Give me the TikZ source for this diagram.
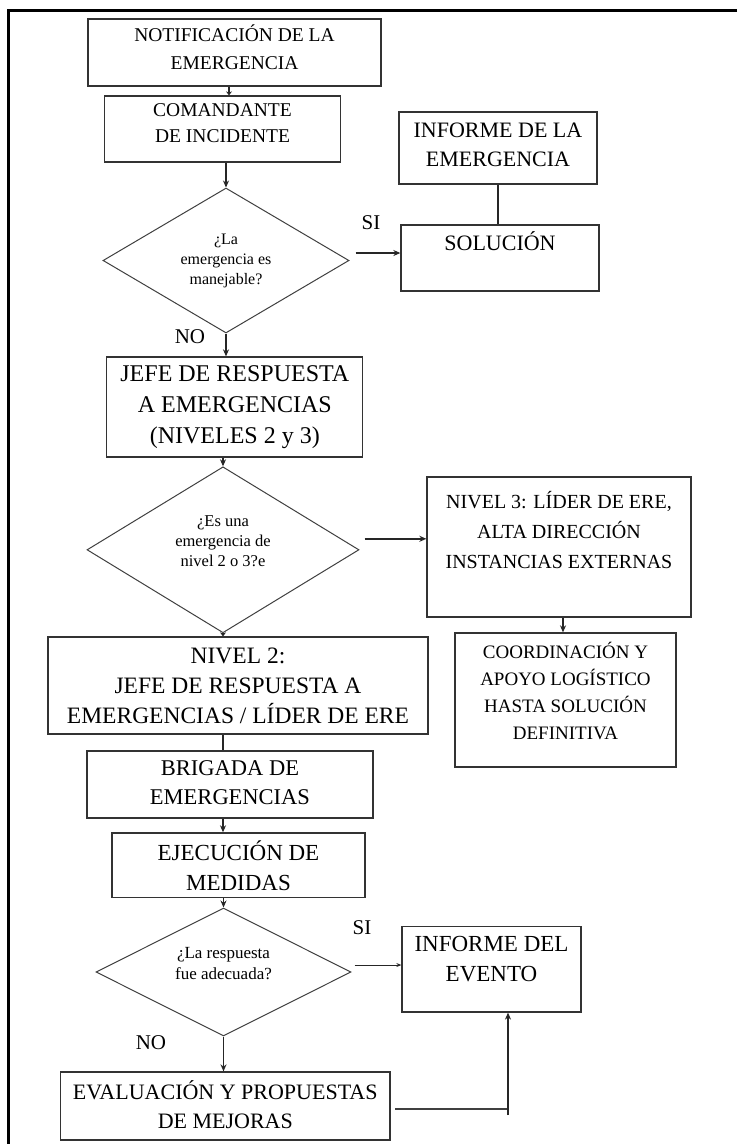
\documentclass[tikz,border=0pt]{standalone}
\usepackage{fontspec}
\setmainfont{Liberation Serif}
\usetikzlibrary{arrows.meta,shapes.geometric}
\newcommand{\flowtext}[6]{\parbox[c][#2][c]{#1}{\centering\fontsize{#4}{#5}\selectfont #6\par\vspace{#3}}}
\begin{document}
\begin{tikzpicture}[x=1pt,y=-1pt,
  box/.style={draw=black!80,line width=1.3pt,inner sep=0pt,rectangle},
  dia/.style={draw=black!75,line width=1pt,inner sep=0pt,diamond},
  arr/.style={-{Stealth[length=7pt,width=6pt]},line width=1.6pt,draw=black!85},
  ln/.style={line width=1.6pt,draw=black!85},
  lbl/.style={inner sep=0pt,font=\fontsize{21pt}{24pt}\selectfont}]

\useasboundingbox (0,0) rectangle (737,1144);
\fill[white] (0,0) rectangle (737,1144);
\draw[line width=3pt] (737,10) -- (8.5,10) -- (8.5,1144);

\node[box] (n1) at (234.5,52.5) {\flowtext{293pt}{67pt}{11pt}{19.5pt}{28pt}{NOTIFICACIÓN DE LA\\EMERGENCIA}};
\node[box] (n2) at (222.5,129) {\flowtext{236pt}{66pt}{12pt}{19.5pt}{26pt}{COMANDANTE\\DE INCIDENTE}};
\node[dia,minimum width=246pt,minimum height=145pt,shape aspect=1.7] (d1) at (226,260.5) {\flowtext{110pt}{60pt}{0pt}{16pt}{20pt}{¿La\\emergencia es\\manejable?}};
\node[box] (inf1) at (498,148) {\flowtext{198pt}{72pt}{7pt}{22pt}{29pt}{INFORME DE LA\\EMERGENCIA}};
\node[box] (sol) at (500,258) {\flowtext{198pt}{66pt}{33pt}{22pt}{29pt}{SOLUCIÓN}};
\node[lbl] (si1) at (371,223) {SI};
\node[lbl] (no1) at (190,337) {NO};
\node[box] (jefe) at (234.8,407) {\flowtext{256pt}{100pt}{0pt}{24pt}{31pt}{JEFE DE RESPUESTA\\A EMERGENCIAS\\(NIVELES 2 y 3)}};
\node[dia,minimum width=272pt,minimum height=166pt,shape aspect=1.64] (d2) at (223,549.8) {\flowtext{110pt}{80pt}{18pt}{16.5pt}{20pt}{¿Es una\\emergencia de\\nivel 2 o 3?e}};
\node[box] (niv3) at (559,547) {\flowtext{264pt}{140pt}{34pt}{20pt}{30pt}{NIVEL 3: LÍDER DE ERE,\\ALTA DIRECCIÓN\\INSTANCIAS EXTERNAS}};
\node[box] (coord) at (565.5,700) {\flowtext{221pt}{134pt}{19pt}{19pt}{27pt}{COORDINACIÓN Y\\APOYO LOGÍSTICO\\HASTA SOLUCIÓN\\DEFINITIVA}};
\node[box] (niv2) at (238,685.5) {\flowtext{380pt}{97pt}{0pt}{23.5pt}{30pt}{NIVEL 2:\\JEFE DE RESPUESTA A\\EMERGENCIAS / LÍDER DE ERE}};
\node[box] (brig) at (230,784.5) {\flowtext{286pt}{67pt}{4pt}{22.5pt}{29pt}{BRIGADA DE\\EMERGENCIAS}};
\node[box] (ejec) at (238.5,865.3) {\flowtext{253pt}{64.7pt}{0pt}{23pt}{30pt}{EJECUCIÓN DE\\MEDIDAS}};
\node[dia,minimum width=255pt,minimum height=128pt,shape aspect=2] (d3) at (223.5,972) {\flowtext{110pt}{50pt}{17pt}{17pt}{21pt}{¿La respuesta\\fue adecuada?}};
\node[box] (infev) at (491.5,969.3) {\flowtext{179pt}{85.3pt}{20.6pt}{23pt}{30pt}{INFORME DEL\\EVENTO}};
\node[lbl] (si3) at (362,928) {SI};
\node[lbl] (no3) at (151,1043) {NO};
\node[box] (eval) at (225.3,1106) {\flowtext{329.3pt}{68pt}{3pt}{22pt}{29pt}{EVALUACIÓN Y PROPUESTAS\\DE MEJORAS}};
\coordinate (cr) at ([xshift=16.5pt]infev.south |- eval.east);

\draw[-{Stealth[length=4pt,width=6pt]},line width=1.4pt,draw=black!85] ([xshift=-5.5pt]n1.south) -- ([xshift=6.5pt]n2.north);
\draw[arr] (d1.north |- n2.south) -- (d1.north);
\draw[arr] ([xshift=6pt,yshift=7.5pt]d1.east) -- ([yshift=7.5pt]d1.east -| sol.west);
\draw[ln] (inf1.south) -- (inf1.south |- sol.north);
\draw[arr] (d1.south) -- (d1.south |- jefe.north);
\draw[arr] (jefe.south -| d2.north) -- (d2.north);
\draw[arr] ([xshift=5pt,yshift=11pt]d2.east) -- ([yshift=11pt]d2.east -| niv3.west);
\draw[arr] ([xshift=4pt]niv3.south) -- ([xshift=4pt]niv3.south |- coord.north);
\draw[-{Stealth[length=4pt,width=6pt]},line width=1.4pt,draw=black!85] (d2.south) -- (d2.south |- niv2.north);
\draw[ln] ([xshift=-7pt]brig.north |- niv2.south) -- ([xshift=-7pt]brig.north);
\draw[arr] ([xshift=-7pt]brig.south) -- ([xshift=-7pt]brig.south |- ejec.north);
\draw[arr] (d3.north |- ejec.south) -- (d3.north);
\draw[-{Stealth[length=5pt,width=4pt]},line width=0.9pt,draw=black!85] ([xshift=3pt,yshift=7pt]d3.east) -- ([yshift=7pt]d3.east -| infev.west);
\draw[arr] (d3.south) -- (d3.south |- eval.north);
\draw[ln,draw=black!75] ([xshift=4.5pt,yshift=-3pt]eval.east) -- ([yshift=-3pt]cr);
\draw[arr] ([yshift=-9pt]cr) -- ([xshift=16.5pt]infev.south);
\end{tikzpicture}
\end{document}
